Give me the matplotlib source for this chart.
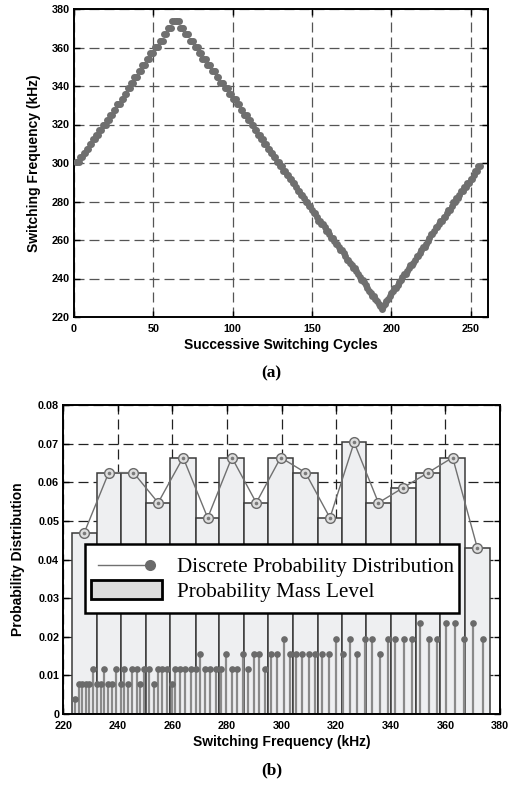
import matplotlib
matplotlib.use('Agg')
import matplotlib.pyplot as plt
import numpy as np
from matplotlib.legend_handler import HandlerBase
from matplotlib.lines import Line2D
from matplotlib.patches import Rectangle

# ---- (a) switching frequency of each cycle (kHz) ----
rise_1 = [300.7, 300.7, 300.7, 302.9, 302.9, 305.1, 305.1, 307.3, 307.3, 310.0, 310.0,
          312.4, 312.4, 314.8, 314.8, 317.3, 317.3, 319.9, 319.9, 319.9, 322.5, 322.5,
          325.0, 325.0, 327.6, 327.6, 330.5, 330.5, 330.5, 333.1, 333.1, 335.9, 335.9,
          338.8, 338.8, 341.5, 341.5, 344.8, 344.8, 344.8, 347.7, 347.7, 350.7, 350.7,
          350.7, 354.0, 354.0, 356.9, 356.9, 356.9, 360.2, 360.2, 360.2, 363.5, 363.5,
          363.5, 366.8, 366.8, 370.1, 370.1, 370.1, 373.7, 373.7, 373.7]
fall_1 = [373.7, 373.7, 370.1, 370.1, 370.1, 366.8, 366.8, 366.8, 363.5, 363.5, 363.5,
          360.2, 360.2, 360.2, 356.9, 356.9, 354.0, 354.0, 354.0, 350.7, 350.7, 350.7,
          347.7, 347.7, 347.7, 344.8, 344.8, 341.5, 341.5, 341.5, 338.8, 338.8, 338.8,
          335.9, 335.9, 333.1, 333.1, 333.1, 330.5, 330.5, 327.6, 327.6, 325.0, 325.0,
          325.0, 322.5, 322.5, 319.9, 319.9, 317.3, 317.3, 314.8, 314.8, 312.4, 312.4,
          310.0, 310.0, 307.3, 307.3, 305.1, 305.1, 302.9, 302.9, 300.7, 300.7]
fall_2 = [298.2, 298.2, 296.0, 296.0, 293.8, 293.8, 291.8, 291.8, 289.7, 289.7, 287.5,
          285.7, 285.7, 283.6, 283.6, 281.7, 279.5, 279.5, 277.7, 277.7, 275.8, 273.9,
          273.9, 271.8, 270.0, 270.0, 268.5, 268.5, 266.7, 264.7, 264.7, 262.9, 261.0,
          261.0, 259.7, 257.9, 257.9, 256.3, 254.6, 254.6, 253.1, 251.5, 249.7, 249.7,
          248.2, 246.9, 245.3, 245.3, 243.8, 242.4, 241.0, 239.4, 239.4, 238.0, 236.5,
          235.0, 233.7, 232.5, 231.0, 231.0, 229.5, 228.3, 227.0, 225.8, 224.3]
rise_2 = [225.8, 227.0, 228.3, 229.5, 231.0, 232.5, 233.7, 235.0, 235.0, 236.5, 238.0,
          239.4, 241.0, 242.4, 242.4, 243.8, 245.3, 246.9, 246.9, 248.2, 249.7, 251.5,
          251.5, 253.1, 254.6, 256.3, 256.3, 257.9, 259.7, 261.0, 262.9, 262.9, 264.7,
          266.7, 266.7, 268.5, 270.0, 270.0, 271.8, 271.8, 273.9, 275.8, 275.8, 277.7,
          279.5, 279.5, 281.7, 281.7, 283.6, 285.7, 285.7, 287.5, 287.5, 289.7, 289.7,
          291.8, 291.8, 293.8, 296.0, 296.0, 298.2, 298.2]
cycle_freq = rise_1 + fall_1 + fall_2 + rise_2
n_cycles = 256

# ---- (b) discrete levels and how many cycles sit on each ----
stem_freq = [224.3, 225.8, 227.0, 228.3, 229.5, 231.0, 232.5, 233.7, 235.0, 236.5, 238.0,
             239.4, 241.0, 242.4, 243.8, 245.3, 246.9, 248.2, 249.7, 251.5, 253.1, 254.6,
             256.3, 257.9, 259.7, 261.0, 262.9, 264.7, 266.7, 268.5, 270.0, 271.8, 273.9,
             275.8, 277.7, 279.5, 281.7, 283.6, 285.7, 287.5, 289.7, 291.8, 293.8, 296.0,
             298.2, 300.7, 302.9, 305.1, 307.3, 310.0, 312.4, 314.8, 317.3, 319.9, 322.5,
             325.0, 327.6, 330.5, 333.1, 335.9, 338.8, 341.5, 344.8, 347.7, 350.7, 354.0,
             356.9, 360.2, 363.5, 366.8, 370.1, 373.7]
stem_count = [1, 2, 2, 2, 2, 3, 2, 2, 3, 2, 2, 3, 2, 3, 2, 3, 3, 2, 3, 3, 2, 3, 3, 3, 2,
              3, 3, 3, 3, 3, 4, 3, 3, 3, 3, 4, 3, 3, 4, 3, 4, 4, 3, 4, 4,
              5, 4, 4, 4, 4, 4, 4, 4, 5, 4, 5, 4, 5, 5, 4, 5,
              5, 5, 5, 6, 5, 5, 6, 6, 5, 6, 5]
bin_edges = [223.1, 232.2, 241.1, 250.3, 259.2, 268.6, 277.2, 286.3, 295.1, 304.2, 313.2,
             322.2, 330.9, 340.0, 349.1, 358.2, 367.1, 376.3]
bin_count = [12, 16, 16, 14, 17, 13, 17, 14, 17, 16, 13, 18, 14, 15, 16, 17, 11]

stem_prob = np.array(stem_count) / n_cycles
bin_prob = np.array(bin_count) / n_cycles
edges = np.array(bin_edges)
centers = (edges[:-1] + edges[1:]) / 2

sans = ['Liberation Sans', 'DejaVu Sans']
serif = ['Liberation Serif', 'DejaVu Serif']
plt.rcParams['font.family'] = sans
plt.rcParams['font.weight'] = 'bold'

fig = plt.figure(figsize=(5.1, 7.85), dpi=100)


def style_axes(ax, gridcolor):
    for s in ax.spines.values():
        s.set_linewidth(1.4)
        s.set_color('black')
    ax.tick_params(direction='in', top=True, right=True, length=4, width=1,
                   labelsize=7.8)
    ax.tick_params(axis='x', pad=5)
    ax.tick_params(axis='y', pad=3)
    for lab in ax.get_xticklabels() + ax.get_yticklabels():
        lab.set_fontweight('bold')
    ax.grid(True, color=gridcolor, linestyle=(0, (8, 4)), linewidth=0.9)


# ---------------- (a) ----------------
ax1 = fig.add_axes([74 / 510, 1 - 317 / 785, 414 / 510, 308 / 785])
ax1.plot(np.arange(1, n_cycles + 1), cycle_freq, 'o', ms=5.0, color='#6f6f6f', mec='none',
         zorder=3)
ax1.set_xlim(0, 261)
ax1.set_ylim(220, 380)
ax1.set_xticks(np.arange(0, 251, 50))
ax1.set_yticks(np.arange(220, 381, 20))
style_axes(ax1, '#555555')
ax1.set_xlabel('Successive Switching Cycles', fontsize=10, fontweight='bold', labelpad=3)
ax1.set_ylabel('Switching Frequency (kHz)', fontsize=10, fontweight='bold')
ax1.yaxis.set_label_coords(-0.080, 0.5)
fig.text(0.532, 1 - 373 / 785, '(a)', ha='center', va='center', fontsize=12.5,
         fontweight='bold', family=serif)

# ---------------- (b) ----------------
ax2 = fig.add_axes([63.3 / 510, 1 - 714 / 785, 436.7 / 510, 309 / 785])
ax2.set_axisbelow(True)
ax2.bar(edges[:-1], bin_prob, width=np.diff(edges), align='edge', color='#eeeff1',
        edgecolor='#3a3a3a', linewidth=1.1, zorder=1)
ax2.vlines(stem_freq, 0, stem_prob, color='#8a8a8a', linewidth=1.6, zorder=2)
ax2.plot(stem_freq, stem_prob, 'o', ms=4.8, color='#6a6a6a', mec='none', zorder=3)
ax2.plot(centers, bin_prob, '-', color='#707070', linewidth=1.0, marker='o', ms=7,
         mfc='#dedede', mec='#6a6a6a', mew=1.0, zorder=4)
ax2.plot(centers, bin_prob, 'o', ms=2.6, color='#7a7a7a', mec='none', zorder=5)
ax2.set_xlim(220, 380)
ax2.set_ylim(0, 0.08)
ax2.set_xticks(np.arange(220, 381, 20))
ax2.set_yticks(np.arange(0, 0.081, 0.01))
ax2.set_yticklabels(['0', '0.01', '0.02', '0.03', '0.04', '0.05', '0.06', '0.07', '0.08'])
style_axes(ax2, '#222222')
ax2.set_xlabel('Switching Frequency (kHz)', fontsize=10, fontweight='bold', labelpad=3)
ax2.set_ylabel('Probability Distribution', fontsize=10, fontweight='bold')
ax2.yaxis.set_label_coords(-0.088, 0.5)
fig.text(0.532, 1 - 770 / 785, '(b)', ha='center', va='center', fontsize=12.5,
         fontweight='bold', family=serif)


class DotLineHandler(HandlerBase):
    def create_artists(self, legend, orig_handle, xdescent, ydescent, width, height,
                       fontsize, trans):
        y = height / 2 - ydescent
        x0 = -xdescent + 0.02 * width
        x1 = -xdescent + 0.82 * width
        line = Line2D([x0, x1], [y, y], color='#707070', linewidth=1.0)
        dot = Line2D([x1], [y], marker='o', ms=8, color='#6a6a6a', mec='none')
        line.set_transform(trans)
        dot.set_transform(trans)
        return [line, dot]


class BoxHandler(HandlerBase):
    def create_artists(self, legend, orig_handle, xdescent, ydescent, width, height,
                       fontsize, trans):
        r = Rectangle((-xdescent - 0.08 * width, -ydescent), width * 1.08, height,
                      facecolor='#dcdcdc', edgecolor='black', linewidth=2.0)
        r.set_transform(trans)
        return [r]


h1 = Line2D([], [])
h2 = Rectangle((0, 0), 1, 1)
leg = ax2.legend([h1, h2], ['Discrete Probability Distribution', 'Probability Mass Level'],
                 handler_map={h1: DotLineHandler(), h2: BoxHandler()},
                 loc='upper left', bbox_to_anchor=(0.0497, 0.33, 0.856, 0.22),
                 mode='expand', borderaxespad=0, fancybox=False, framealpha=1,
                 prop={'family': serif, 'size': 15.2, 'weight': 'normal'},
                 handlelength=3.1, handleheight=1.0, handletextpad=0.7,
                 labelspacing=0.12, borderpad=0.55)
leg.get_frame().set_edgecolor('black')
leg.get_frame().set_linewidth(1.8)
leg.set_zorder(10)

fig.savefig('out.png', dpi=100)
